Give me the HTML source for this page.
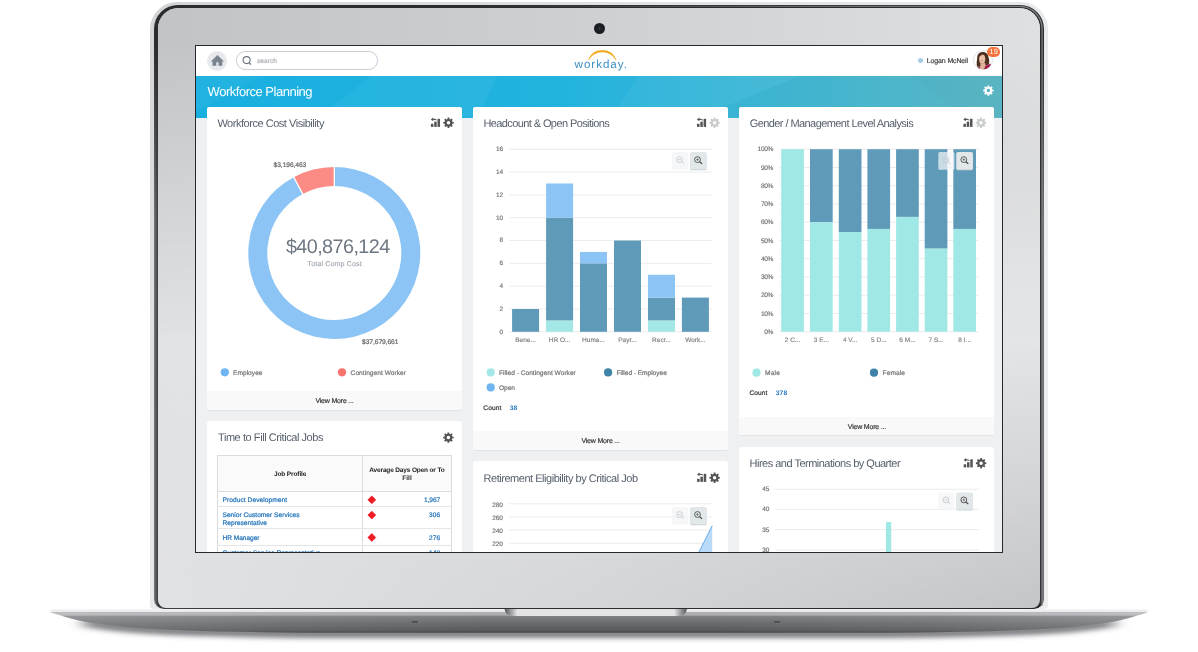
<!DOCTYPE html>
<html lang="en"><head><meta charset="utf-8"><title>Workforce Planning</title>
<style>
html,body{margin:0;padding:0;background:#fff;}
body{width:1198px;height:652px;position:relative;overflow:hidden;font-family:"Liberation Sans",sans-serif;text-rendering:geometricPrecision;-webkit-font-smoothing:antialiased;}
.abs{position:absolute;}
.t{position:absolute;white-space:nowrap;}
.card{position:absolute;background:#fff;border-radius:2px;box-shadow:0 0.5px 0.8px rgba(0,0,0,.05);overflow:hidden;}
.foot{position:absolute;left:0;right:0;background:#f9f9fa;}
svg{position:absolute;left:0;top:0;}
</style></head><body>
<svg width="1198" height="652" viewBox="0 0 1198 652">
<defs>
<filter id="blur" x="-5%" y="-200%" width="110%" height="500%"><feGaussianBlur stdDeviation="8 2.5"/></filter>
<linearGradient id="basebody" x1="0" y1="609.3" x2="0" y2="632.7" gradientUnits="userSpaceOnUse"><stop offset="0" stop-color="#efefef"/><stop offset=".11" stop-color="#e5e5e6"/><stop offset=".14" stop-color="#a6a8ab"/><stop offset=".2" stop-color="#b4b6b9"/><stop offset=".27" stop-color="#9a9c9f"/><stop offset=".31" stop-color="#7d7f83"/><stop offset=".6" stop-color="#696b6f"/><stop offset=".9" stop-color="#585a5e"/><stop offset="1" stop-color="#424448"/></linearGradient>
<linearGradient id="baselight" x1="0" y1="0" x2="1" y2="0"><stop offset="0" stop-color="#fff" stop-opacity=".2"/><stop offset=".06" stop-color="#fff" stop-opacity=".14"/><stop offset=".2" stop-color="#fff" stop-opacity=".06"/><stop offset=".4" stop-color="#fff" stop-opacity="0"/><stop offset=".6" stop-color="#fff" stop-opacity="0"/><stop offset=".8" stop-color="#fff" stop-opacity=".06"/><stop offset=".94" stop-color="#fff" stop-opacity=".14"/><stop offset="1" stop-color="#fff" stop-opacity=".2"/></linearGradient>
<linearGradient id="notch" x1="0" y1="0" x2="1" y2="0"><stop offset="0" stop-color="#55575b"/><stop offset=".07" stop-color="#e4e4e5"/><stop offset=".93" stop-color="#e4e4e5"/><stop offset="1" stop-color="#55575b"/></linearGradient>
</defs>
<path d="M1114.0 618.50 L1108.0 619.53 L1101.0 620.56 L1094.0 621.50 L1084.0 622.80 L1074.0 623.90 L1064.0 624.71 L1054.0 625.40 L1044.0 626.05 L1034.0 626.60 L1016.0 627.33 L998.0 627.90 L978.0 628.39 L958.0 628.80 L938.0 629.20 L918.0 629.50 L891.3 629.70 L306.7 629.70 L280.0 629.50 L260.0 629.20 L240.0 628.80 L220.0 628.39 L200.0 627.90 L182.0 627.33 L164.0 626.60 L154.0 626.05 L144.0 625.40 L134.0 624.71 L124.0 623.90 L114.0 622.80 L104.0 621.50 L97.0 620.56 L90.0 619.53 L84.0 618.50 L84.0 626.70 L90.0 627.73 L97.0 628.76 L104.0 629.70 L114.0 631.00 L124.0 632.10 L134.0 632.91 L144.0 633.60 L154.0 634.25 L164.0 634.80 L182.0 635.53 L200.0 636.10 L220.0 636.59 L240.0 637.00 L260.0 637.40 L280.0 637.70 L306.7 637.90 L891.3 637.90 L918.0 637.70 L938.0 637.40 L958.0 637.00 L978.0 636.59 L998.0 636.10 L1016.0 635.53 L1034.0 634.80 L1044.0 634.25 L1054.0 633.60 L1064.0 632.91 L1074.0 632.10 L1084.0 631.00 L1094.0 629.70 L1101.0 628.76 L1108.0 627.73 L1114.0 626.70 Z" fill="#4a4c50" fill-opacity=".72" filter="url(#blur)"/>
<path d="M50.6 610.6 Q50.6 609.3 52.2 609.3 H1145.8 Q1147.4 609.3 1147.4 610.6 L1147.4 612.30 L1146.0 612.81 L1144.0 613.50 L1141.0 614.46 L1138.0 615.36 L1134.0 616.50 L1129.0 617.88 L1124.0 619.22 L1119.0 620.45 L1114.0 621.50 L1108.0 622.53 L1101.0 623.56 L1094.0 624.50 L1084.0 625.80 L1074.0 626.90 L1064.0 627.71 L1054.0 628.40 L1044.0 629.05 L1034.0 629.60 L1016.0 630.33 L998.0 630.90 L978.0 631.39 L958.0 631.80 L938.0 632.20 L918.0 632.50 L891.3 632.70 L306.7 632.70 L280.0 632.50 L260.0 632.20 L240.0 631.80 L220.0 631.39 L200.0 630.90 L182.0 630.33 L164.0 629.60 L154.0 629.05 L144.0 628.40 L134.0 627.71 L124.0 626.90 L114.0 625.80 L104.0 624.50 L97.0 623.56 L90.0 622.53 L84.0 621.50 L79.0 620.45 L74.0 619.22 L69.0 617.88 L64.0 616.50 L60.0 615.36 L57.0 614.46 L54.0 613.50 L52.0 612.81 L50.6 612.30 Z" fill="url(#basebody)"/>
<path d="M50.6 610.6 Q50.6 609.3 52.2 609.3 H1145.8 Q1147.4 609.3 1147.4 610.6 L1147.4 612.30 L1146.0 612.81 L1144.0 613.50 L1141.0 614.46 L1138.0 615.36 L1134.0 616.50 L1129.0 617.88 L1124.0 619.22 L1119.0 620.45 L1114.0 621.50 L1108.0 622.53 L1101.0 623.56 L1094.0 624.50 L1084.0 625.80 L1074.0 626.90 L1064.0 627.71 L1054.0 628.40 L1044.0 629.05 L1034.0 629.60 L1016.0 630.33 L998.0 630.90 L978.0 631.39 L958.0 631.80 L938.0 632.20 L918.0 632.50 L891.3 632.70 L306.7 632.70 L280.0 632.50 L260.0 632.20 L240.0 631.80 L220.0 631.39 L200.0 630.90 L182.0 630.33 L164.0 629.60 L154.0 629.05 L144.0 628.40 L134.0 627.71 L124.0 626.90 L114.0 625.80 L104.0 624.50 L97.0 623.56 L90.0 622.53 L84.0 621.50 L79.0 620.45 L74.0 619.22 L69.0 617.88 L64.0 616.50 L60.0 615.36 L57.0 614.46 L54.0 613.50 L52.0 612.81 L50.6 612.30 Z" fill="url(#baselight)"/>
<path d="M504.5 608.8 H687 Q686 616 678 616 H513.5 Q505.5 616 504.5 608.8 Z" fill="url(#notch)"/>
<rect x="412" y="621.3" width="6" height="1.3" rx=".6" fill="#3c3e42"/><rect x="774" y="621.3" width="6" height="1.3" rx=".6" fill="#3c3e42"/>
</svg>
<div class="abs" style="left:150.3px;top:2px;width:897.4px;height:607.2px;border-radius:27px 27px 4px 4px;background:linear-gradient(to bottom right,#d2d4d6,#e1e2e4 30%,#ebeced 60%,#eeeeef);"></div>
<div class="abs" style="left:154px;top:4.6px;width:890px;height:604px;border-radius:24px 24px 10px 10px;background:linear-gradient(to bottom,#2a2c30 0%,#2a2c30 6%,rgba(42,44,48,0) 35%),linear-gradient(to right,#77797d,#3a3c40 .45%,#2a2c30 50%,#26282b 99.55%,#77797d);"></div>
<svg width="1198" height="652" viewBox="0 0 1198 652"><defs><linearGradient id="ringlight" x1="154" y1="0" x2="1044" y2="0" gradientUnits="userSpaceOnUse"><stop offset="0" stop-color="#8a8c90" stop-opacity="0"/><stop offset=".35" stop-color="#8a8c90" stop-opacity="0"/><stop offset=".8" stop-color="#8a8c90" stop-opacity=".7"/><stop offset="1" stop-color="#8a8c90" stop-opacity=".9"/></linearGradient></defs><clipPath id="ringclip"><rect x="0" y="0" width="1198" height="606"/></clipPath><rect x="155.9" y="6.45" width="886.2" height="620" rx="22.2" stroke="url(#ringlight)" stroke-width="1.2" fill="none" clip-path="url(#ringclip)"/></svg>
<div class="abs" style="left:158px;top:8px;width:882px;height:599.8px;border-radius:20.5px 20.5px 8px 8px;background:linear-gradient(to right,#e1e2e4,#d5d6d8 50%,#c5c6c8);overflow:hidden;"><div class="abs" style="left:0;top:0;right:0;bottom:0;background:linear-gradient(to right,#e0e2e4,#e3e5e6);-webkit-mask-image:linear-gradient(to bottom,transparent 0%,#000 45%,#000 55%,transparent 100%);mask-image:linear-gradient(to bottom,transparent 0%,#000 45%,#000 55%,transparent 100%);"></div><div class="abs" style="left:0;top:0;right:0;bottom:0;background:linear-gradient(to right,#c1c3c6,#cfd0d3 50%,#dfe0e1);-webkit-mask-image:linear-gradient(to bottom,#000 0%,#000 6%,transparent 55%);mask-image:linear-gradient(to bottom,#000 0%,#000 6%,transparent 55%);"></div></div>
<div class="abs" style="left:593.5px;top:23px;width:11px;height:11px;border-radius:50%;background:radial-gradient(circle at 50% 50%,#2d4a55 0,#1b1d20 22%,#1b1d20 100%);"></div>
<div class="abs" style="left:195px;top:45px;width:808px;height:507.6px;box-sizing:border-box;border:1px solid #26282b;background:#eef0f2;overflow:hidden;"><div class="abs" style="left:-196px;top:-46px;width:1198px;height:652px;">
<div class="abs" style="left:196px;top:46px;width:806px;height:29.6px;background:#fff;"></div>
<div class="abs" style="left:196px;top:75.5px;width:806px;height:42.1px;background:linear-gradient(to right,#18afe0 0%,#22b3de 45%,#3db7d6 70%,#5dbac8 100%);"></div>
<svg width="1198" height="652" viewBox="0 0 1198 652"><g><path d="M372 75.5 L497 75.5 L478 117.6 L318 117.6 Z" fill="#fff" fill-opacity=".045"/><path d="M196 75.5 L262 75.5 L196 112 Z" fill="#fff" fill-opacity=".04"/><path d="M640 75.5 L800 75.5 L700 117.6 L610 117.6 Z" fill="#fff" fill-opacity=".04"/><path d="M800 75.5 L910 75.5 L965 117.6 L700 117.6 Z" fill="#000" fill-opacity=".015"/><path d="M910 75.5 L1002 75.5 L1002 117.6 L965 117.6 Z" fill="#000" fill-opacity=".03"/></g></svg>
<div class="abs" style="left:207.3px;top:50.5px;width:20.2px;height:20.2px;border-radius:50%;background:#e7e9ec;"></div>
<div class="abs" style="left:236px;top:51.2px;width:141.5px;height:18.6px;box-sizing:border-box;border:1px solid #c9cdd5;border-radius:9.3px;background:#fff;"></div>
<div class="abs" style="left:973px;top:50.3px;width:20.2px;height:20.2px;box-sizing:border-box;border-radius:50%;border:1px solid #dfe5ec;background:#fff;"></div>
<svg width="1198" height="652" viewBox="0 0 1198 652"><defs><clipPath id="avc"><circle cx="983.1" cy="60.4" r="9.1"/></clipPath></defs><g clip-path="url(#avc)"><path d="M982.6 52 C978.6 52 977.2 55 977.2 58 C977 61 976.2 63.5 977 66.6 L980.5 67 L985 65.6 L988.6 64.6 C989.8 62.5 989.2 60 988.6 57.6 C988.2 54.2 986.4 52 982.6 52 Z" fill="#4d2f1d"/><path d="M979.6 63.6 C980.8 64.6 981 66 979 68.6 L977.6 71 H988.6 L987.6 66.4 C985.8 65.6 985.2 64.6 985.2 63 Z" fill="#deb097"/><ellipse cx="982.2" cy="58.9" rx="3.05" ry="4.5" fill="#e9c1a8"/><path d="M979.2 57.2 C979.6 54.6 981.6 53.6 983.4 54 C981.4 55 980.2 56 979.2 57.2 Z" fill="#4d2f1d"/><path d="M985.6 65.6 L990.4 63.6 L992 70 L983.4 70.6 Z" fill="#9f1f4c"/><path d="M976.4 67.6 L979.6 66.8 L980.2 70.6 H976 Z" fill="#9f1f4c"/><path d="M980.6 60.8 h2.6" stroke="#c9796f" stroke-width=".7"/></g></svg>
<div class="abs" style="left:987px;top:46.9px;width:13.2px;height:10.2px;border-radius:5.1px;background:#f4733a;"></div>
<div class="abs" style="left:917.5px;top:57.9px;width:5px;height:5px;border-radius:50%;background:#a3cde6;"></div>
<div class="card" style="left:207.4px;top:106.9px;width:254.80px;height:303.00px"><div class="foot" style="top:284.00px;height:19.00px"></div></div>
<div class="card" style="left:207.4px;top:421.0px;width:254.80px;height:179.00px"></div>
<div class="card" style="left:473.1px;top:106.9px;width:255.00px;height:343.10px"><div class="foot" style="top:324.30px;height:18.80px"></div></div>
<div class="card" style="left:473.1px;top:461.2px;width:255.00px;height:138.80px"></div>
<div class="card" style="left:739.4px;top:106.9px;width:255.00px;height:328.40px"><div class="foot" style="top:310.30px;height:18.10px"></div></div>
<div class="card" style="left:739.4px;top:446.9px;width:255.00px;height:153.10px"></div>
<div class="abs" style="left:217.2px;top:455.0px;width:234.7px;height:110px;box-sizing:border-box;border:1px solid #dcdcdc;background:#fff;"><div class="abs" style="left:0;top:0;right:0;height:35.2px;background:#fafafa;border-bottom:1px solid #dcdcdc;"></div><div class="abs" style="left:144.2px;top:0;width:1px;height:110px;background:#dcdcdc;"></div><div class="abs" style="left:0;right:0;top:50.2px;height:1px;background:#e6e6e6;"></div><div class="abs" style="left:0;right:0;top:72.4px;height:1px;background:#e6e6e6;"></div><div class="abs" style="left:0;right:0;top:88.6px;height:1px;background:#e6e6e6;"></div></div>
<svg width="1198" height="652" viewBox="0 0 1198 652">
<path d="M217.4 55 L224 61.4 H222.3 V65.7 H218.5 V62.2 H216.3 V65.7 H212.5 V61.4 H210.8 Z" fill="#7a848e"/>
<g stroke="#6d7781" stroke-width="1.1" fill="none"><circle cx="246.6" cy="60.1" r="3.5"/><path d="M249.1 62.7 l1.9 1.9" stroke-width="1.3"/></g>
<path d="M588.4 59.5 A15.1 15.1 0 0 1 616.2 59.5 L615.8 59.7 A15.7 15.7 0 0 0 588.8 59.7 Z" fill="#f0a71f" stroke="#f0a71f" stroke-width=".35" stroke-linejoin="round"/>
<path d="M987.39 86.78 L987.54 85.42 L989.26 85.42 L989.41 86.78 L990.38 87.18 L991.45 86.33 L992.67 87.55 L991.82 88.62 L992.22 89.59 L993.58 89.74 L993.58 91.46 L992.22 91.61 L991.82 92.58 L992.67 93.65 L991.45 94.87 L990.38 94.02 L989.41 94.42 L989.26 95.78 L987.54 95.78 L987.39 94.42 L986.42 94.02 L985.35 94.87 L984.13 93.65 L984.98 92.58 L984.58 91.61 L983.22 91.46 L983.22 89.74 L984.58 89.59 L984.98 88.62 L984.13 87.55 L985.35 86.33 L986.42 87.18 Z M986.65 90.60 a1.75 1.75 0 1 0 3.5 0 a1.75 1.75 0 1 0 -3.5 0 Z" fill="#ffffff" fill-rule="evenodd"/>
<g fill="#555"><rect x="430.90" y="123.80" width="2.5" height="3.1"/><rect x="434.20" y="121.70" width="2.5" height="5.2"/><rect x="437.50" y="118.80" width="2.5" height="8.1"/><path d="M430.80 119.40 l2.5 -1.8 v1.2 h1.6 l1.9 0.9 v0.9 l-1.9 -0.6 h-1.6 v1.2 Z"/></g>
<path d="M447.49 118.98 L447.64 117.62 L449.36 117.62 L449.51 118.98 L450.48 119.38 L451.55 118.53 L452.77 119.75 L451.92 120.82 L452.32 121.79 L453.68 121.94 L453.68 123.66 L452.32 123.81 L451.92 124.78 L452.77 125.85 L451.55 127.07 L450.48 126.22 L449.51 126.62 L449.36 127.98 L447.64 127.98 L447.49 126.62 L446.52 126.22 L445.45 127.07 L444.23 125.85 L445.08 124.78 L444.68 123.81 L443.32 123.66 L443.32 121.94 L444.68 121.79 L445.08 120.82 L444.23 119.75 L445.45 118.53 L446.52 119.38 Z M446.75 122.80 a1.75 1.75 0 1 0 3.5 0 a1.75 1.75 0 1 0 -3.5 0 Z" fill="#555" fill-rule="evenodd"/>
<g fill="#555"><rect x="697.00" y="123.80" width="2.5" height="3.1"/><rect x="700.30" y="121.70" width="2.5" height="5.2"/><rect x="703.60" y="118.80" width="2.5" height="8.1"/><path d="M696.90 119.40 l2.5 -1.8 v1.2 h1.6 l1.9 0.9 v0.9 l-1.9 -0.6 h-1.6 v1.2 Z"/></g>
<path d="M713.59 118.98 L713.74 117.62 L715.46 117.62 L715.61 118.98 L716.58 119.38 L717.65 118.53 L718.87 119.75 L718.02 120.82 L718.42 121.79 L719.78 121.94 L719.78 123.66 L718.42 123.81 L718.02 124.78 L718.87 125.85 L717.65 127.07 L716.58 126.22 L715.61 126.62 L715.46 127.98 L713.74 127.98 L713.59 126.62 L712.62 126.22 L711.55 127.07 L710.33 125.85 L711.18 124.78 L710.78 123.81 L709.42 123.66 L709.42 121.94 L710.78 121.79 L711.18 120.82 L710.33 119.75 L711.55 118.53 L712.62 119.38 Z M712.85 122.80 a1.75 1.75 0 1 0 3.5 0 a1.75 1.75 0 1 0 -3.5 0 Z" fill="#c9cbcd" fill-rule="evenodd"/>
<g fill="#555"><rect x="963.40" y="123.80" width="2.5" height="3.1"/><rect x="966.70" y="121.70" width="2.5" height="5.2"/><rect x="970.00" y="118.80" width="2.5" height="8.1"/><path d="M963.30 119.40 l2.5 -1.8 v1.2 h1.6 l1.9 0.9 v0.9 l-1.9 -0.6 h-1.6 v1.2 Z"/></g>
<path d="M979.99 118.98 L980.14 117.62 L981.86 117.62 L982.01 118.98 L982.98 119.38 L984.05 118.53 L985.27 119.75 L984.42 120.82 L984.82 121.79 L986.18 121.94 L986.18 123.66 L984.82 123.81 L984.42 124.78 L985.27 125.85 L984.05 127.07 L982.98 126.22 L982.01 126.62 L981.86 127.98 L980.14 127.98 L979.99 126.62 L979.02 126.22 L977.95 127.07 L976.73 125.85 L977.58 124.78 L977.18 123.81 L975.82 123.66 L975.82 121.94 L977.18 121.79 L977.58 120.82 L976.73 119.75 L977.95 118.53 L979.02 119.38 Z M979.25 122.80 a1.75 1.75 0 1 0 3.5 0 a1.75 1.75 0 1 0 -3.5 0 Z" fill="#c9cbcd" fill-rule="evenodd"/>
<g fill="#555"><rect x="697.10" y="478.80" width="2.5" height="3.1"/><rect x="700.40" y="476.70" width="2.5" height="5.2"/><rect x="703.70" y="473.80" width="2.5" height="8.1"/><path d="M697.00 474.40 l2.5 -1.8 v1.2 h1.6 l1.9 0.9 v0.9 l-1.9 -0.6 h-1.6 v1.2 Z"/></g>
<path d="M713.59 473.98 L713.74 472.62 L715.46 472.62 L715.61 473.98 L716.58 474.38 L717.65 473.53 L718.87 474.75 L718.02 475.82 L718.42 476.79 L719.78 476.94 L719.78 478.66 L718.42 478.81 L718.02 479.78 L718.87 480.85 L717.65 482.07 L716.58 481.22 L715.61 481.62 L715.46 482.98 L713.74 482.98 L713.59 481.62 L712.62 481.22 L711.55 482.07 L710.33 480.85 L711.18 479.78 L710.78 478.81 L709.42 478.66 L709.42 476.94 L710.78 476.79 L711.18 475.82 L710.33 474.75 L711.55 473.53 L712.62 474.38 Z M712.85 477.80 a1.75 1.75 0 1 0 3.5 0 a1.75 1.75 0 1 0 -3.5 0 Z" fill="#555" fill-rule="evenodd"/>
<g fill="#555"><rect x="963.70" y="464.30" width="2.5" height="3.1"/><rect x="967.00" y="462.20" width="2.5" height="5.2"/><rect x="970.30" y="459.30" width="2.5" height="8.1"/><path d="M963.60 459.90 l2.5 -1.8 v1.2 h1.6 l1.9 0.9 v0.9 l-1.9 -0.6 h-1.6 v1.2 Z"/></g>
<path d="M980.09 459.38 L980.24 458.02 L981.96 458.02 L982.11 459.38 L983.08 459.78 L984.15 458.93 L985.37 460.15 L984.52 461.22 L984.92 462.19 L986.28 462.34 L986.28 464.06 L984.92 464.21 L984.52 465.18 L985.37 466.25 L984.15 467.47 L983.08 466.62 L982.11 467.02 L981.96 468.38 L980.24 468.38 L980.09 467.02 L979.12 466.62 L978.05 467.47 L976.83 466.25 L977.68 465.18 L977.28 464.21 L975.92 464.06 L975.92 462.34 L977.28 462.19 L977.68 461.22 L976.83 460.15 L978.05 458.93 L979.12 459.78 Z M979.35 463.20 a1.75 1.75 0 1 0 3.5 0 a1.75 1.75 0 1 0 -3.5 0 Z" fill="#555" fill-rule="evenodd"/>
<path d="M447.39 433.78 L447.54 432.42 L449.26 432.42 L449.41 433.78 L450.38 434.18 L451.45 433.33 L452.67 434.55 L451.82 435.62 L452.22 436.59 L453.58 436.74 L453.58 438.46 L452.22 438.61 L451.82 439.58 L452.67 440.65 L451.45 441.87 L450.38 441.02 L449.41 441.42 L449.26 442.78 L447.54 442.78 L447.39 441.42 L446.42 441.02 L445.35 441.87 L444.13 440.65 L444.98 439.58 L444.58 438.61 L443.22 438.46 L443.22 436.74 L444.58 436.59 L444.98 435.62 L444.13 434.55 L445.35 433.33 L446.42 434.18 Z M446.65 437.60 a1.75 1.75 0 1 0 3.5 0 a1.75 1.75 0 1 0 -3.5 0 Z" fill="#555" fill-rule="evenodd"/>
<path d="M334.30 167.00 A86.0 86.0 0 1 1 293.72 177.17 L302.69 193.93 A67.0 67.0 0 1 0 334.30 186.00 Z" fill="#8cc5f5"/>
<path d="M293.72 177.17 A86.0 86.0 0 0 1 334.30 167.00 L334.30 186.00 A67.0 67.0 0 0 0 302.69 193.93 Z" fill="#fc8a85"/>
<path d="M334.30 166.50 L334.30 186.50" stroke="#fff" stroke-width="1.3"/>
<path d="M293.49 176.73 L302.92 194.37" stroke="#fff" stroke-width="1.3"/>
<circle cx="224.8" cy="372.3" r="4.1" fill="#6fb5f2"/><circle cx="342" cy="372.3" r="4.1" fill="#f9736d"/>
<rect x="509.2" y="331.30" width="202.7" height="1" fill="#ececec"/>
<rect x="509.2" y="308.48" width="202.7" height="1" fill="#ececec"/>
<rect x="509.2" y="285.66" width="202.7" height="1" fill="#ececec"/>
<rect x="509.2" y="262.84" width="202.7" height="1" fill="#ececec"/>
<rect x="509.2" y="240.02" width="202.7" height="1" fill="#ececec"/>
<rect x="509.2" y="217.20" width="202.7" height="1" fill="#ececec"/>
<rect x="509.2" y="194.38" width="202.7" height="1" fill="#ececec"/>
<rect x="509.2" y="171.56" width="202.7" height="1" fill="#ececec"/>
<rect x="509.2" y="148.74" width="202.7" height="1" fill="#ececec"/>
<rect x="512.10" y="308.98" width="27" height="22.82" fill="#5f9bb9"/>
<rect x="546.10" y="320.39" width="27" height="11.41" fill="#a3e8e6"/>
<rect x="546.10" y="217.70" width="27" height="102.69" fill="#5f9bb9"/>
<rect x="546.10" y="183.47" width="27" height="34.23" fill="#8cc5f5"/>
<rect x="580.00" y="263.34" width="27" height="68.46" fill="#5f9bb9"/>
<rect x="580.00" y="251.93" width="27" height="11.41" fill="#8cc5f5"/>
<rect x="614.00" y="240.52" width="27" height="91.28" fill="#5f9bb9"/>
<rect x="648.00" y="320.39" width="27" height="11.41" fill="#a3e8e6"/>
<rect x="648.00" y="297.57" width="27" height="22.82" fill="#5f9bb9"/>
<rect x="648.00" y="274.75" width="27" height="22.82" fill="#8cc5f5"/>
<rect x="681.90" y="297.57" width="27" height="34.23" fill="#5f9bb9"/>
<rect x="672.00" y="152.10" width="16.2" height="17.6" rx="1.5" fill="#f2f4f5" fill-opacity="0.72"/><rect x="690.10" y="152.90" width="16.5" height="17.4" rx="1.5" fill="#cdd4d8"/><rect x="690.10" y="152.10" width="16.5" height="17.2" rx="1.5" fill="#e2e7ea"/><g stroke="#c6c9cc" stroke-width="0.9" fill="none"><circle cx="679.60" cy="159.60" r="2.9"/><path d="M681.70 161.70 l2.3 2.1 M678.20 159.60 h2.8"/></g><g stroke="#4a4a4a" stroke-width="0.9" fill="none"><circle cx="697.50" cy="159.60" r="2.9"/><path d="M699.60 161.70 l2.4 2.1" stroke-width="1.25"/><path d="M696.20 159.60 h2.6 M697.50 158.30 v2.6" stroke-width="0.6"/></g>
<circle cx="490.7" cy="372.4" r="4.1" fill="#a3e8e6"/><circle cx="608.1" cy="372.4" r="4.1" fill="#3f83a8"/><circle cx="490.7" cy="387.4" r="4.1" fill="#6fb5f2"/>
<rect x="779.2" y="331.20" width="199.3" height="1" fill="#ececec"/>
<rect x="779.2" y="312.95" width="199.3" height="1" fill="#ececec"/>
<rect x="779.2" y="294.70" width="199.3" height="1" fill="#ececec"/>
<rect x="779.2" y="276.45" width="199.3" height="1" fill="#ececec"/>
<rect x="779.2" y="258.20" width="199.3" height="1" fill="#ececec"/>
<rect x="779.2" y="239.95" width="199.3" height="1" fill="#ececec"/>
<rect x="779.2" y="221.70" width="199.3" height="1" fill="#ececec"/>
<rect x="779.2" y="203.45" width="199.3" height="1" fill="#ececec"/>
<rect x="779.2" y="185.20" width="199.3" height="1" fill="#ececec"/>
<rect x="779.2" y="166.95" width="199.3" height="1" fill="#ececec"/>
<rect x="779.2" y="148.70" width="199.3" height="1" fill="#ececec"/>
<rect x="781.20" y="149.20" width="22.7" height="0.00" fill="#5f9bb9"/>
<rect x="781.20" y="149.20" width="22.7" height="182.50" fill="#a0e8e6"/>
<rect x="810.00" y="149.20" width="22.7" height="73.00" fill="#5f9bb9"/>
<rect x="810.00" y="222.20" width="22.7" height="109.50" fill="#a0e8e6"/>
<rect x="838.80" y="149.20" width="22.7" height="82.85" fill="#5f9bb9"/>
<rect x="838.80" y="232.06" width="22.7" height="99.64" fill="#a0e8e6"/>
<rect x="867.40" y="149.20" width="22.7" height="79.75" fill="#5f9bb9"/>
<rect x="867.40" y="228.95" width="22.7" height="102.75" fill="#a0e8e6"/>
<rect x="896.10" y="149.20" width="22.7" height="67.71" fill="#5f9bb9"/>
<rect x="896.10" y="216.91" width="22.7" height="114.79" fill="#a0e8e6"/>
<rect x="924.70" y="149.20" width="22.7" height="99.46" fill="#5f9bb9"/>
<rect x="924.70" y="248.66" width="22.7" height="83.04" fill="#a0e8e6"/>
<rect x="953.30" y="149.20" width="22.7" height="79.75" fill="#5f9bb9"/>
<rect x="953.30" y="228.95" width="22.7" height="102.75" fill="#a0e8e6"/>
<rect x="938.30" y="152.10" width="16.2" height="17.6" rx="1.5" fill="#f2f4f5" fill-opacity="0.72"/><rect x="956.40" y="152.90" width="16.5" height="17.4" rx="1.5" fill="#cdd4d8"/><rect x="956.40" y="152.10" width="16.5" height="17.2" rx="1.5" fill="#e2e7ea"/><g stroke="#c6c9cc" stroke-width="0.9" fill="none"><circle cx="945.90" cy="159.60" r="2.9"/><path d="M948.00 161.70 l2.3 2.1 M944.50 159.60 h2.8"/></g><g stroke="#4a4a4a" stroke-width="0.9" fill="none"><circle cx="963.80" cy="159.60" r="2.9"/><path d="M965.90 161.70 l2.4 2.1" stroke-width="1.25"/><path d="M962.50 159.60 h2.6 M963.80 158.30 v2.6" stroke-width="0.6"/></g>
<circle cx="756.5" cy="372.7" r="4.1" fill="#a0e8e6"/><circle cx="874" cy="372.7" r="4.1" fill="#3f83a8"/>
<rect x="509" y="503.30" width="203.2" height="1" fill="#ececec"/>
<rect x="509" y="516.40" width="203.2" height="1" fill="#ececec"/>
<rect x="509" y="529.60" width="203.2" height="1" fill="#ececec"/>
<rect x="509" y="542.80" width="203.2" height="1" fill="#ececec"/>
<rect x="509" y="555.90" width="203.2" height="1" fill="#ececec"/>
<path d="M698.5 553 L712.2 525.8 V553 Z" fill="#b9dbf9"/><path d="M698.5 553 L712.2 525.8" stroke="#5eaaee" stroke-width="1" fill="none"/>
<rect x="672.00" y="507.00" width="16.2" height="17.6" rx="1.5" fill="#f2f4f5" fill-opacity="0.72"/><rect x="690.10" y="507.80" width="16.5" height="17.4" rx="1.5" fill="#cdd4d8"/><rect x="690.10" y="507.00" width="16.5" height="17.2" rx="1.5" fill="#e2e7ea"/><g stroke="#c6c9cc" stroke-width="0.9" fill="none"><circle cx="679.60" cy="514.50" r="2.9"/><path d="M681.70 516.60 l2.3 2.1 M678.20 514.50 h2.8"/></g><g stroke="#4a4a4a" stroke-width="0.9" fill="none"><circle cx="697.50" cy="514.50" r="2.9"/><path d="M699.60 516.60 l2.4 2.1" stroke-width="1.25"/><path d="M696.20 514.50 h2.6 M697.50 513.20 v2.6" stroke-width="0.6"/></g>
<rect x="774.9" y="488.80" width="204" height="1" fill="#ececec"/>
<rect x="774.9" y="508.90" width="204" height="1" fill="#ececec"/>
<rect x="774.9" y="529.10" width="204" height="1" fill="#ececec"/>
<rect x="774.9" y="549.40" width="204" height="1" fill="#ececec"/>
<rect x="886" y="522" width="5.2" height="40" fill="#a0e8e6"/>
<rect x="938.30" y="492.40" width="16.2" height="17.6" rx="1.5" fill="#f2f4f5" fill-opacity="0.72"/><rect x="956.40" y="493.20" width="16.5" height="17.4" rx="1.5" fill="#cdd4d8"/><rect x="956.40" y="492.40" width="16.5" height="17.2" rx="1.5" fill="#e2e7ea"/><g stroke="#c6c9cc" stroke-width="0.9" fill="none"><circle cx="945.90" cy="499.90" r="2.9"/><path d="M948.00 502.00 l2.3 2.1 M944.50 499.90 h2.8"/></g><g stroke="#4a4a4a" stroke-width="0.9" fill="none"><circle cx="963.80" cy="499.90" r="2.9"/><path d="M965.90 502.00 l2.4 2.1" stroke-width="1.25"/><path d="M962.50 499.90 h2.6 M963.80 498.60 v2.6" stroke-width="0.6"/></g>
<path d="M371.8 495.90 L375.7 499.80 L371.8 503.70 L367.9 499.80 Z" fill="#ee1c25" stroke="#ee1c25" stroke-width=".8" stroke-linejoin="round"/>
<path d="M371.8 511.20 L375.7 515.10 L371.8 519.00 L367.9 515.10 Z" fill="#ee1c25" stroke="#ee1c25" stroke-width=".8" stroke-linejoin="round"/>
<path d="M371.8 533.60 L375.7 537.50 L371.8 541.40 L367.9 537.50 Z" fill="#ee1c25" stroke="#ee1c25" stroke-width=".8" stroke-linejoin="round"/>
</svg>
<div class="t" style="font-size:6.6px;color:#a9adb2;top:57.54px;line-height:7.92px;letter-spacing:0.041px;left:257.00px;-webkit-text-stroke:0.18px;"><span>search</span></div>
<div class="t" style="font-size:11.6px;color:#3d8fc4;top:58.14px;line-height:13.92px;letter-spacing:0.967px;left:574.60px;"><span>workday.</span></div>
<div class="t" style="font-size:7px;color:#3c3c3c;top:57.70px;line-height:8.40px;letter-spacing:-0.138px;left:926.80px;-webkit-text-stroke:0.18px;"><span>Logan McNeil</span></div>
<div class="t" style="font-size:7.4px;color:#fff;top:47.96px;line-height:8.88px;left:793.70px;width:400px;text-align:center;"><span>19</span></div>
<div class="t" style="font-size:13px;color:#fff;top:83.60px;line-height:15.60px;letter-spacing:-0.483px;left:207.60px;"><span>Workforce Planning</span></div>
<div class="t" style="font-size:11px;color:#56606c;top:117.50px;line-height:13.20px;letter-spacing:-0.466px;left:217.40px;"><span>Workforce Cost Visibility</span></div>
<div class="t" style="font-size:11px;color:#56606c;top:117.50px;line-height:13.20px;letter-spacing:-0.595px;left:483.40px;"><span>Headcount &amp; Open Positions</span></div>
<div class="t" style="font-size:11px;color:#56606c;top:117.50px;line-height:13.20px;letter-spacing:-0.571px;left:749.70px;"><span>Gender / Management Level Analysis</span></div>
<div class="t" style="font-size:11px;color:#56606c;top:432.30px;line-height:13.20px;letter-spacing:-0.434px;left:218.00px;"><span>Time to Fill Critical Jobs</span></div>
<div class="t" style="font-size:11px;color:#56606c;top:473.30px;line-height:13.20px;letter-spacing:-0.464px;left:483.50px;"><span>Retirement Eligibility by Critical Job</span></div>
<div class="t" style="font-size:11px;color:#56606c;top:457.80px;line-height:13.20px;letter-spacing:-0.510px;left:749.60px;"><span>Hires and Terminations by Quarter</span></div>
<div class="t" style="font-size:6.7px;color:#606060;top:162.08px;line-height:8.04px;letter-spacing:-0.087px;left:273.60px;-webkit-text-stroke:0.18px;"><span>$3,196,463</span></div>
<div class="t" style="font-size:6.7px;color:#606060;top:339.08px;line-height:8.04px;letter-spacing:-0.070px;left:362.00px;-webkit-text-stroke:0.18px;"><span>$37,679,661</span></div>
<div class="t" style="font-size:19.8px;color:#6e7782;top:236.32px;line-height:23.76px;letter-spacing:-0.572px;left:285.90px;"><span>$40,876,124</span></div>
<div class="t" style="font-size:7px;color:#a4abb3;top:261.20px;line-height:8.40px;letter-spacing:0.161px;left:307.60px;-webkit-text-stroke:0.18px;"><span>Total Comp Cost</span></div>
<div class="t" style="font-size:6.6px;color:#747474;top:370.44px;line-height:7.92px;letter-spacing:0.025px;left:233.00px;-webkit-text-stroke:0.2px;"><span>Employee</span></div>
<div class="t" style="font-size:6.6px;color:#747474;top:370.44px;line-height:7.92px;letter-spacing:0.028px;left:350.60px;-webkit-text-stroke:0.2px;"><span>Contingent Worker</span></div>
<div class="t" style="font-size:7px;color:#333;top:398.20px;line-height:8.40px;letter-spacing:-0.193px;left:134.60px;width:400px;text-align:center;text-indent:-0.193px;-webkit-text-stroke:0.18px;"><span>View More ...</span></div>
<div class="t" style="font-size:7px;color:#333;top:438.20px;line-height:8.40px;letter-spacing:-0.193px;left:400.60px;width:400px;text-align:center;text-indent:-0.193px;-webkit-text-stroke:0.18px;"><span>View More ...</span></div>
<div class="t" style="font-size:7px;color:#333;top:423.80px;line-height:8.40px;letter-spacing:-0.193px;left:667.00px;width:400px;text-align:center;text-indent:-0.193px;-webkit-text-stroke:0.18px;"><span>View More ...</span></div>
<div class="t" style="font-size:6.5px;color:#222;top:471.00px;line-height:7.80px;font-weight:bold;letter-spacing:-0.119px;left:90.20px;width:400px;text-align:center;text-indent:-0.119px;"><span>Job Profile</span></div>
<div class="t" style="font-size:6.5px;color:#222;top:466.80px;line-height:7.80px;font-weight:bold;letter-spacing:-0.152px;left:207.00px;width:400px;text-align:center;text-indent:-0.152px;"><span>Average Days Open or To</span></div>
<div class="t" style="font-size:6.5px;color:#222;top:475.40px;line-height:7.80px;font-weight:bold;left:207.00px;width:400px;text-align:center;"><span>Fill</span></div>
<div class="t" style="font-size:6.6px;color:#1b6fb8;top:496.94px;line-height:7.92px;letter-spacing:0.065px;left:222.50px;-webkit-text-stroke:0.2px;"><span>Product Development</span></div>
<div class="t" style="font-size:6.6px;color:#1b6fb8;top:512.14px;line-height:7.92px;letter-spacing:0.018px;left:222.50px;-webkit-text-stroke:0.2px;"><span>Senior Customer Services</span></div>
<div class="t" style="font-size:6.6px;color:#1b6fb8;top:519.54px;line-height:7.92px;letter-spacing:0.011px;left:222.50px;-webkit-text-stroke:0.2px;"><span>Representative</span></div>
<div class="t" style="font-size:6.6px;color:#1b6fb8;top:535.04px;line-height:7.92px;letter-spacing:-0.043px;left:222.50px;-webkit-text-stroke:0.2px;"><span>HR Manager</span></div>
<div class="t" style="font-size:6.6px;color:#1b6fb8;top:549.84px;line-height:7.92px;letter-spacing:-0.020px;left:222.50px;-webkit-text-stroke:0.2px;"><span>Customer Service Representative</span></div>
<div class="t" style="font-size:6.6px;color:#1b6fb8;top:496.64px;line-height:7.92px;letter-spacing:-0.079px;left:40.20px;width:399.921px;text-align:right;-webkit-text-stroke:0.2px;"><span>1,967</span></div>
<div class="t" style="font-size:6.6px;color:#1b6fb8;top:512.04px;line-height:7.92px;letter-spacing:0.142px;left:40.20px;width:400.142px;text-align:right;-webkit-text-stroke:0.2px;"><span>306</span></div>
<div class="t" style="font-size:6.6px;color:#1b6fb8;top:534.84px;line-height:7.92px;letter-spacing:0.142px;left:40.20px;width:400.142px;text-align:right;-webkit-text-stroke:0.2px;"><span>276</span></div>
<div class="t" style="font-size:6.6px;color:#1b6fb8;top:550.24px;line-height:7.92px;letter-spacing:0.142px;left:40.20px;width:400.142px;text-align:right;-webkit-text-stroke:0.2px;"><span>148</span></div>
<div class="t" style="font-size:6.5px;color:#747474;top:328.70px;line-height:7.80px;left:103.20px;width:400.000px;text-align:right;-webkit-text-stroke:0.18px;"><span>0</span></div>
<div class="t" style="font-size:6.5px;color:#747474;top:305.88px;line-height:7.80px;left:103.20px;width:400.000px;text-align:right;-webkit-text-stroke:0.18px;"><span>2</span></div>
<div class="t" style="font-size:6.5px;color:#747474;top:283.06px;line-height:7.80px;left:103.20px;width:400.000px;text-align:right;-webkit-text-stroke:0.18px;"><span>4</span></div>
<div class="t" style="font-size:6.5px;color:#747474;top:260.24px;line-height:7.80px;left:103.20px;width:400.000px;text-align:right;-webkit-text-stroke:0.18px;"><span>6</span></div>
<div class="t" style="font-size:6.5px;color:#747474;top:237.42px;line-height:7.80px;left:103.20px;width:400.000px;text-align:right;-webkit-text-stroke:0.18px;"><span>8</span></div>
<div class="t" style="font-size:6.5px;color:#747474;top:214.60px;line-height:7.80px;left:103.20px;width:400.000px;text-align:right;-webkit-text-stroke:0.18px;"><span>10</span></div>
<div class="t" style="font-size:6.5px;color:#747474;top:191.78px;line-height:7.80px;left:103.20px;width:400.000px;text-align:right;-webkit-text-stroke:0.18px;"><span>12</span></div>
<div class="t" style="font-size:6.5px;color:#747474;top:168.96px;line-height:7.80px;left:103.20px;width:400.000px;text-align:right;-webkit-text-stroke:0.18px;"><span>14</span></div>
<div class="t" style="font-size:6.5px;color:#747474;top:146.14px;line-height:7.80px;left:103.20px;width:400.000px;text-align:right;-webkit-text-stroke:0.18px;"><span>16</span></div>
<div class="t" style="font-size:6.5px;color:#858585;top:336.90px;line-height:7.80px;left:325.60px;width:400px;text-align:center;-webkit-text-stroke:0.18px;"><span>Bene...</span></div>
<div class="t" style="font-size:6.5px;color:#858585;top:336.90px;line-height:7.80px;left:359.60px;width:400px;text-align:center;-webkit-text-stroke:0.18px;"><span>HR O...</span></div>
<div class="t" style="font-size:6.5px;color:#858585;top:336.90px;line-height:7.80px;left:393.50px;width:400px;text-align:center;-webkit-text-stroke:0.18px;"><span>Huma...</span></div>
<div class="t" style="font-size:6.5px;color:#858585;top:336.90px;line-height:7.80px;left:427.50px;width:400px;text-align:center;-webkit-text-stroke:0.18px;"><span>Payr...</span></div>
<div class="t" style="font-size:6.5px;color:#858585;top:336.90px;line-height:7.80px;left:461.50px;width:400px;text-align:center;-webkit-text-stroke:0.18px;"><span>Recr...</span></div>
<div class="t" style="font-size:6.5px;color:#858585;top:336.90px;line-height:7.80px;left:495.40px;width:400px;text-align:center;-webkit-text-stroke:0.18px;"><span>Work...</span></div>
<div class="t" style="font-size:6.6px;color:#747474;top:369.64px;line-height:7.92px;letter-spacing:0.013px;left:499.00px;-webkit-text-stroke:0.2px;"><span>Filled - Contingent Worker</span></div>
<div class="t" style="font-size:6.6px;color:#747474;top:369.64px;line-height:7.92px;letter-spacing:-0.040px;left:616.50px;-webkit-text-stroke:0.2px;"><span>Filled - Employee</span></div>
<div class="t" style="font-size:6.6px;color:#747474;top:385.44px;line-height:7.92px;letter-spacing:-0.080px;left:499.00px;-webkit-text-stroke:0.2px;"><span>Open</span></div>
<div class="t" style="font-size:6.6px;color:#333;top:404.74px;line-height:7.92px;letter-spacing:0.098px;left:483.30px;-webkit-text-stroke:0.2px;"><span>Count</span></div>
<div class="t" style="font-size:6.6px;color:#1f74c0;top:404.74px;line-height:7.92px;font-weight:bold;letter-spacing:0.156px;left:509.80px;"><span>38</span></div>
<div class="t" style="font-size:6.6px;color:#747474;top:328.84px;line-height:7.92px;left:373.20px;width:400.000px;text-align:right;-webkit-text-stroke:0.18px;letter-spacing:-0.3px;"><span>0%</span></div>
<div class="t" style="font-size:6.6px;color:#747474;top:310.59px;line-height:7.92px;left:373.20px;width:400.000px;text-align:right;-webkit-text-stroke:0.18px;letter-spacing:-0.3px;"><span>10%</span></div>
<div class="t" style="font-size:6.6px;color:#747474;top:292.34px;line-height:7.92px;left:373.20px;width:400.000px;text-align:right;-webkit-text-stroke:0.18px;letter-spacing:-0.3px;"><span>20%</span></div>
<div class="t" style="font-size:6.6px;color:#747474;top:274.09px;line-height:7.92px;left:373.20px;width:400.000px;text-align:right;-webkit-text-stroke:0.18px;letter-spacing:-0.3px;"><span>30%</span></div>
<div class="t" style="font-size:6.6px;color:#747474;top:255.84px;line-height:7.92px;left:373.20px;width:400.000px;text-align:right;-webkit-text-stroke:0.18px;letter-spacing:-0.3px;"><span>40%</span></div>
<div class="t" style="font-size:6.6px;color:#747474;top:237.59px;line-height:7.92px;left:373.20px;width:400.000px;text-align:right;-webkit-text-stroke:0.18px;letter-spacing:-0.3px;"><span>50%</span></div>
<div class="t" style="font-size:6.6px;color:#747474;top:219.34px;line-height:7.92px;left:373.20px;width:400.000px;text-align:right;-webkit-text-stroke:0.18px;letter-spacing:-0.3px;"><span>60%</span></div>
<div class="t" style="font-size:6.6px;color:#747474;top:201.09px;line-height:7.92px;left:373.20px;width:400.000px;text-align:right;-webkit-text-stroke:0.18px;letter-spacing:-0.3px;"><span>70%</span></div>
<div class="t" style="font-size:6.6px;color:#747474;top:182.84px;line-height:7.92px;left:373.20px;width:400.000px;text-align:right;-webkit-text-stroke:0.18px;letter-spacing:-0.3px;"><span>80%</span></div>
<div class="t" style="font-size:6.6px;color:#747474;top:164.59px;line-height:7.92px;left:373.20px;width:400.000px;text-align:right;-webkit-text-stroke:0.18px;letter-spacing:-0.3px;"><span>90%</span></div>
<div class="t" style="font-size:6.6px;color:#747474;top:146.34px;line-height:7.92px;left:373.20px;width:400.000px;text-align:right;-webkit-text-stroke:0.18px;letter-spacing:-0.3px;"><span>100%</span></div>
<div class="t" style="font-size:6.5px;color:#858585;top:336.90px;line-height:7.80px;left:592.60px;width:400px;text-align:center;-webkit-text-stroke:0.18px;"><span>2 C...</span></div>
<div class="t" style="font-size:6.5px;color:#858585;top:336.90px;line-height:7.80px;left:621.40px;width:400px;text-align:center;-webkit-text-stroke:0.18px;"><span>3 E...</span></div>
<div class="t" style="font-size:6.5px;color:#858585;top:336.90px;line-height:7.80px;left:650.20px;width:400px;text-align:center;-webkit-text-stroke:0.18px;"><span>4 V...</span></div>
<div class="t" style="font-size:6.5px;color:#858585;top:336.90px;line-height:7.80px;left:678.80px;width:400px;text-align:center;-webkit-text-stroke:0.18px;"><span>5 D...</span></div>
<div class="t" style="font-size:6.5px;color:#858585;top:336.90px;line-height:7.80px;left:707.50px;width:400px;text-align:center;-webkit-text-stroke:0.18px;"><span>6 M...</span></div>
<div class="t" style="font-size:6.5px;color:#858585;top:336.90px;line-height:7.80px;left:736.10px;width:400px;text-align:center;-webkit-text-stroke:0.18px;"><span>7 S...</span></div>
<div class="t" style="font-size:6.5px;color:#858585;top:336.90px;line-height:7.80px;left:764.70px;width:400px;text-align:center;-webkit-text-stroke:0.18px;"><span>8 I...</span></div>
<div class="t" style="font-size:6.6px;color:#747474;top:369.64px;line-height:7.92px;letter-spacing:0.168px;left:765.00px;-webkit-text-stroke:0.2px;"><span>Male</span></div>
<div class="t" style="font-size:6.6px;color:#747474;top:369.64px;line-height:7.92px;letter-spacing:0.060px;left:882.60px;-webkit-text-stroke:0.2px;"><span>Female</span></div>
<div class="t" style="font-size:6.6px;color:#333;top:390.04px;line-height:7.92px;letter-spacing:0.098px;left:749.40px;-webkit-text-stroke:0.2px;"><span>Count</span></div>
<div class="t" style="font-size:6.6px;color:#1f74c0;top:390.04px;line-height:7.92px;font-weight:bold;letter-spacing:0.142px;left:775.80px;"><span>378</span></div>
<div class="t" style="font-size:6.5px;color:#747474;top:501.55px;line-height:7.80px;left:103.00px;width:400.000px;text-align:right;-webkit-text-stroke:0.18px;"><span>280</span></div>
<div class="t" style="font-size:6.5px;color:#747474;top:514.65px;line-height:7.80px;left:103.00px;width:400.000px;text-align:right;-webkit-text-stroke:0.18px;"><span>260</span></div>
<div class="t" style="font-size:6.5px;color:#747474;top:527.85px;line-height:7.80px;left:103.00px;width:400.000px;text-align:right;-webkit-text-stroke:0.18px;"><span>240</span></div>
<div class="t" style="font-size:6.5px;color:#747474;top:541.05px;line-height:7.80px;left:103.00px;width:400.000px;text-align:right;-webkit-text-stroke:0.18px;"><span>220</span></div>
<div class="t" style="font-size:6.5px;color:#747474;top:554.15px;line-height:7.80px;left:103.00px;width:400.000px;text-align:right;-webkit-text-stroke:0.18px;"><span>200</span></div>
<div class="t" style="font-size:6.5px;color:#747474;top:486.25px;line-height:7.80px;left:369.40px;width:400.000px;text-align:right;-webkit-text-stroke:0.18px;"><span>45</span></div>
<div class="t" style="font-size:6.5px;color:#747474;top:506.35px;line-height:7.80px;left:369.40px;width:400.000px;text-align:right;-webkit-text-stroke:0.18px;"><span>40</span></div>
<div class="t" style="font-size:6.5px;color:#747474;top:526.55px;line-height:7.80px;left:369.40px;width:400.000px;text-align:right;-webkit-text-stroke:0.18px;"><span>35</span></div>
<div class="t" style="font-size:6.5px;color:#747474;top:546.85px;line-height:7.80px;left:369.40px;width:400.000px;text-align:right;-webkit-text-stroke:0.18px;"><span>30</span></div>
</div></div>
</body></html>
